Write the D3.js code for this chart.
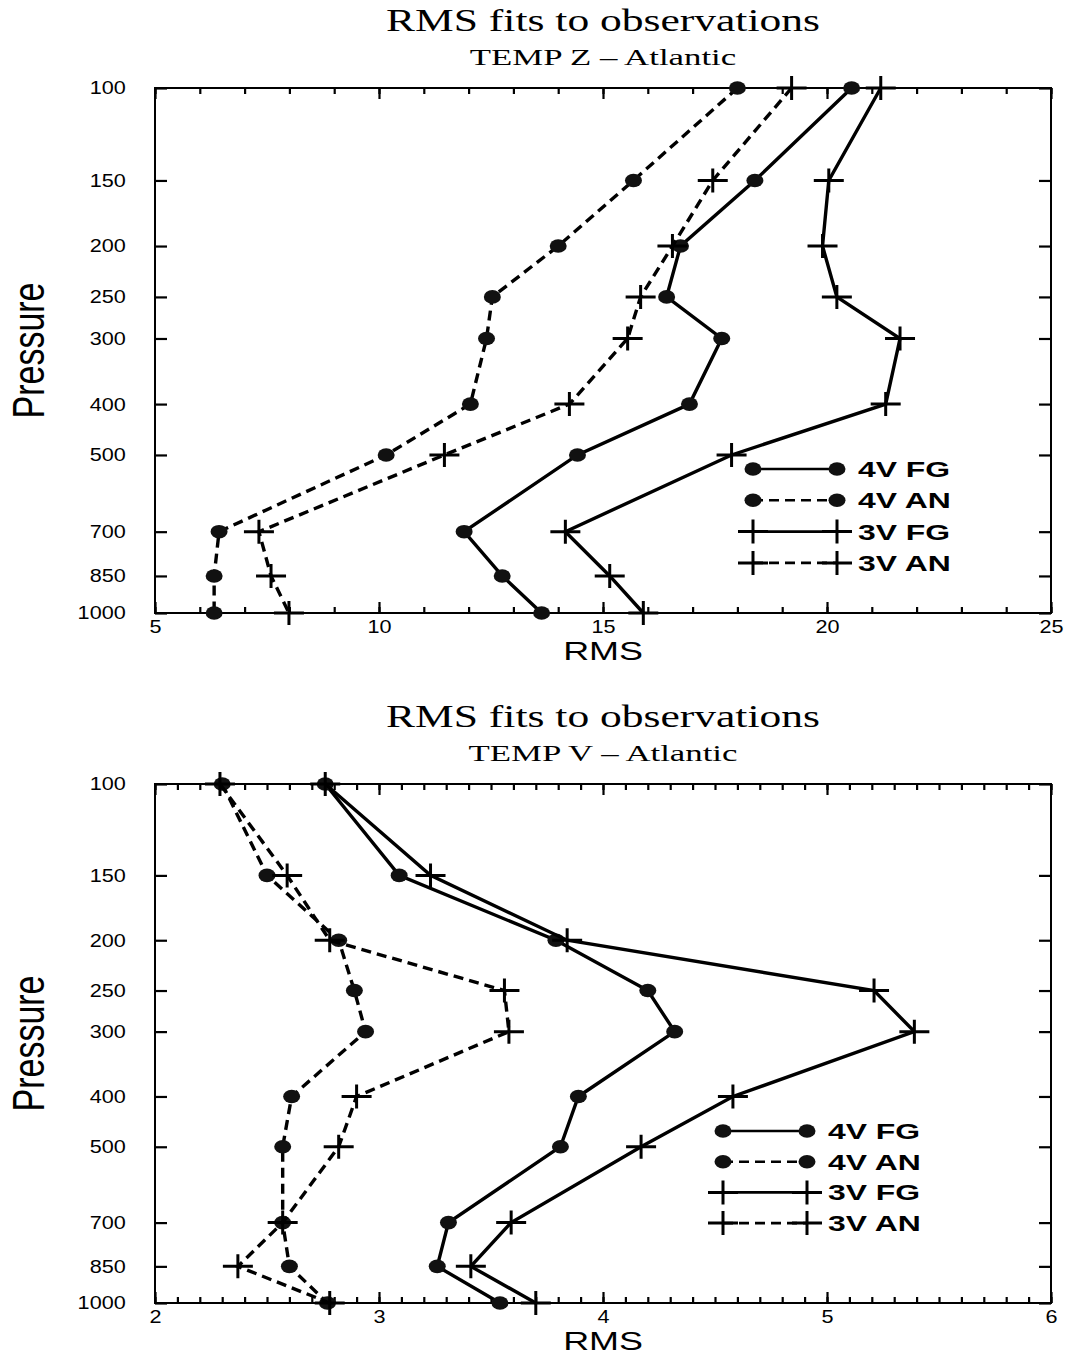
<!DOCTYPE html>
<html>
<head>
<meta charset="utf-8">
<script src="https://cdn.jsdelivr.net/npm/d3@7"></script>
<style>
  body { margin: 0; background: #fff; }
  svg { display: block; }
</style>
</head>
<body>
<svg id="chart" width="1070" height="1356"></svg>
<script>
// pressure levels (hPa), shared by both panels
const levels = [100, 150, 200, 250, 300, 400, 500, 700, 850, 1000];

// TEMP Z - Atlantic
const zFG4 = [20.55, 18.39, 16.73, 16.42, 17.65, 16.93, 14.43, 11.9, 12.75, 13.63];
const zAN4 = [18.0, 15.68, 14.0, 12.53, 12.4, 12.04, 10.16, 6.43, 6.32, 6.32];
const zFG3 = [21.2, 20.04, 19.9, 20.22, 21.63, 21.31, 17.87, 14.16, 15.15, 15.9];
const zAN3 = [19.21, 17.45, 16.55, 15.84, 15.55, 14.25, 11.46, 7.32, 7.59, 7.99];

// TEMP V - Atlantic
const vFG4 = [2.76, 3.09, 3.79, 4.2, 4.32, 3.89, 3.81, 3.31, 3.26, 3.54];
const vAN4 = [2.3, 2.5, 2.82, 2.89, 2.94, 2.61, 2.57, 2.57, 2.6, 2.77];
const vFG3 = [2.76, 3.23, 3.84, 5.21, 5.39, 4.58, 4.17, 3.59, 3.41, 3.7];
const vAN3 = [2.29, 2.59, 2.78, 3.56, 3.58, 2.9, 2.82, 2.57, 2.37, 2.78];

const seriesNames = ["4V FG", "4V AN", "3V FG", "3V AN"];
const title = "RMS fits to observations";
const subtitles = ["TEMP Z \u2013 Atlantic", "TEMP V \u2013 Atlantic"];
const zTicks = [5, 10, 15, 20, 25];
const vTicks = [2, 3, 4, 5, 6];

const SERIF = "'Liberation Serif', 'Times New Roman', serif";
const SANS = "'Liberation Sans', Arial, Helvetica, sans-serif";
// the scan is wider than it is tall, so text is stretched sideways
const STRETCH = 1.17;

// marker + dash per series (same order as seriesNames)
const styles = [
  { marker: "dot", dash: null },
  { marker: "dot", dash: "10,6" },
  { marker: "plus", dash: null },
  { marker: "plus", dash: "10,6" }
];

const svg = d3.select("#chart");

function marker(g, kind, cx, cy) {
  if (kind === "dot") {
    g.append("ellipse")
      .attr("cx", cx).attr("cy", cy)
      .attr("rx", 8.5).attr("ry", 6.8)
      .attr("fill", "#111");
  } else {
    g.append("path")
      .attr("d", `M${cx - 15},${cy}H${cx + 15}M${cx},${cy - 12}V${cy + 12}`)
      .attr("stroke", "#000").attr("stroke-width", 3).attr("fill", "none");
  }
}

function stretchText(sel, k) {
  sel.attr("transform", `scale(${k},1)`);
}

function drawPanel(opt) {
  const { top, bottom, domain, major, minorStep, data, subtitle, legend } = opt;
  const left = 155, right = 1051;

  const x = d3.scaleLinear().domain(domain).range([left, right]);
  const y = d3.scaleLog().domain([100, 1000]).range([top, bottom]);

  const g = svg.append("g");
  const minor = d3.range(domain[0], domain[1] + minorStep / 2, minorStep)
    .map(v => +v.toFixed(3));

  // minor ticks bottom / top
  g.append("g")
    .attr("transform", `translate(0,${bottom})`)
    .call(d3.axisBottom(x).tickValues(minor).tickSize(-6).tickSizeOuter(0).tickFormat(""));
  g.append("g")
    .attr("transform", `translate(0,${top})`)
    .call(d3.axisTop(x).tickValues(minor).tickSize(-6).tickSizeOuter(0).tickFormat(""));

  // major ticks with labels
  g.append("g")
    .attr("transform", `translate(0,${bottom})`)
    .call(d3.axisBottom(x).tickValues(major).tickSize(-11).tickSizeOuter(0).tickPadding(7)
      .tickFormat(d3.format("d")))
    .call(a => a.selectAll("text").call(stretchText, STRETCH));
  g.append("g")
    .attr("transform", `translate(0,${top})`)
    .call(d3.axisTop(x).tickValues(major).tickSize(-11).tickSizeOuter(0).tickFormat(""));

  // pressure axes
  g.append("g")
    .attr("transform", `translate(${left},0)`)
    .call(d3.axisLeft(y).tickValues(levels).tickSize(-12).tickSizeOuter(0).tickPadding(25)
      .tickFormat(d3.format("d")))
    .call(a => a.selectAll("text").call(stretchText, STRETCH));
  g.append("g")
    .attr("transform", `translate(${right},0)`)
    .call(d3.axisRight(y).tickValues(levels).tickSize(-12).tickSizeOuter(0).tickFormat(""));

  g.selectAll(".domain").remove();
  g.selectAll(".tick line").attr("stroke", "#000").attr("stroke-width", 2.2);
  g.selectAll(".tick text")
    .attr("font-family", SANS).attr("font-size", 18.5).attr("fill", "#000");

  // frame
  g.append("rect")
    .attr("x", left).attr("y", top)
    .attr("width", right - left).attr("height", bottom - top)
    .attr("fill", "none").attr("stroke", "#000").attr("stroke-width", 2);

  // series
  const line = d3.line().x(d => x(d.v)).y(d => y(d.p));
  data.forEach((vals, i) => {
    const pts = vals.map((v, j) => ({ v, p: levels[j] }));
    const s = g.append("g");
    s.append("path")
      .attr("d", line(pts))
      .attr("fill", "none").attr("stroke", "#000").attr("stroke-width", 3.4)
      .attr("stroke-dasharray", styles[i].dash);
    pts.forEach(d => marker(s, styles[i].marker, x(d.v), y(d.p)));
  });

  // titles
  svg.append("text")
    .attr("transform", `translate(${(left + right) / 2},${top - 57}) scale(1.36,1)`)
    .attr("text-anchor", "middle")
    .attr("font-family", SERIF).attr("font-size", 32)
    .text(title);
  svg.append("text")
    .attr("transform", `translate(${(left + right) / 2},${top - 23}) scale(1.45,1)`)
    .attr("text-anchor", "middle")
    .attr("font-family", SERIF).attr("font-size", 24)
    .text(subtitle);

  // axis titles
  svg.append("text")
    .attr("transform", `translate(${(left + right) / 2},${bottom + 47}) scale(1.38,1)`)
    .attr("text-anchor", "middle")
    .attr("font-family", SANS).attr("font-size", 26)
    .text("RMS");
  svg.append("text")
    .attr("transform", `translate(44,${(top + bottom) / 2}) scale(1.3,1) rotate(-90)`)
    .attr("text-anchor", "middle")
    .attr("font-family", SANS).attr("font-size", 34)
    .text("Pressure");

  // legend
  const lg = svg.append("g");
  seriesNames.forEach((name, i) => {
    const ly = legend.y + i * legend.dy;
    lg.append("line")
      .attr("x1", legend.x1).attr("x2", legend.x2)
      .attr("y1", ly).attr("y2", ly)
      .attr("stroke", "#000").attr("stroke-width", 2.6)
      .attr("stroke-dasharray", styles[i].dash);
    marker(lg, styles[i].marker, legend.x1, ly);
    marker(lg, styles[i].marker, legend.x2, ly);
    lg.append("text")
      .attr("transform", `translate(${legend.x2 + 21},${ly + 8}) scale(1.45,1)`)
      .attr("font-family", SANS).attr("font-size", 22).attr("font-weight", "bold")
      .text(name);
  });
}

drawPanel({
  top: 88, bottom: 613, domain: [5, 25], major: zTicks, minorStep: 1,
  data: [zFG4, zAN4, zFG3, zAN3], subtitle: subtitles[0],
  legend: { x1: 753, x2: 837, y: 469, dy: 31.3 }
});

drawPanel({
  top: 784, bottom: 1303, domain: [2, 6], major: vTicks, minorStep: 0.1,
  data: [vFG4, vAN4, vFG3, vAN3], subtitle: subtitles[1],
  legend: { x1: 723, x2: 807, y: 1131, dy: 30.7 }
});
</script>
</body>
</html>
